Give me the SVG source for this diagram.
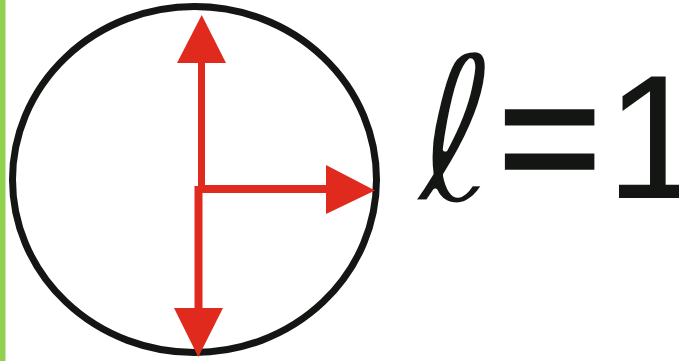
<svg xmlns="http://www.w3.org/2000/svg" width="679" height="361" viewBox="0 0 679 361">
<style>
.arrow-shaft{stroke:#e02a1e;stroke-width:8;fill:none}
.arrow-head{fill:#e02a1e}
.label{font-family:"Liberation Sans",Arial,sans-serif;fill:#141614}
</style>
<rect x="0" y="0" width="679" height="361" fill="#ffffff"/>
<rect x="0" y="0" width="5.5" height="361" fill="#92d050"/>
<g id="circle">
<ellipse cx="194.5" cy="179.5" rx="182" ry="173" fill="none" stroke="#141614" stroke-width="7"/>
</g>
<g id="connectors">
<line class="arrow-shaft" x1="201.5" y1="189" x2="201.5" y2="62" style="stroke-width:7"/>
<polygon class="arrow-head" points="201.7,15 226,63 177,63"/>
<line class="arrow-shaft" x1="198" y1="189" x2="327" y2="189"/>
<polygon class="arrow-head" points="375,190.5 326,165 326,214"/>
<line class="arrow-shaft" x1="198.5" y1="186" x2="198.5" y2="309"/>
<polygon class="arrow-head" points="174,308 223,308 198.3,357"/>
</g>
<g id="label">
<text class="label"><tspan x="415" y="202" style="font-family:'DejaVu Sans',sans-serif;font-style:oblique" font-size="205" stroke="#ffffff" stroke-width="5" stroke-linejoin="round">ℓ</tspan><tspan x="498" y="198" font-size="177" stroke="#141614" stroke-width="3.5">=</tspan><tspan x="605.5" y="198" font-size="177">1</tspan></text>
</g>
</svg>
